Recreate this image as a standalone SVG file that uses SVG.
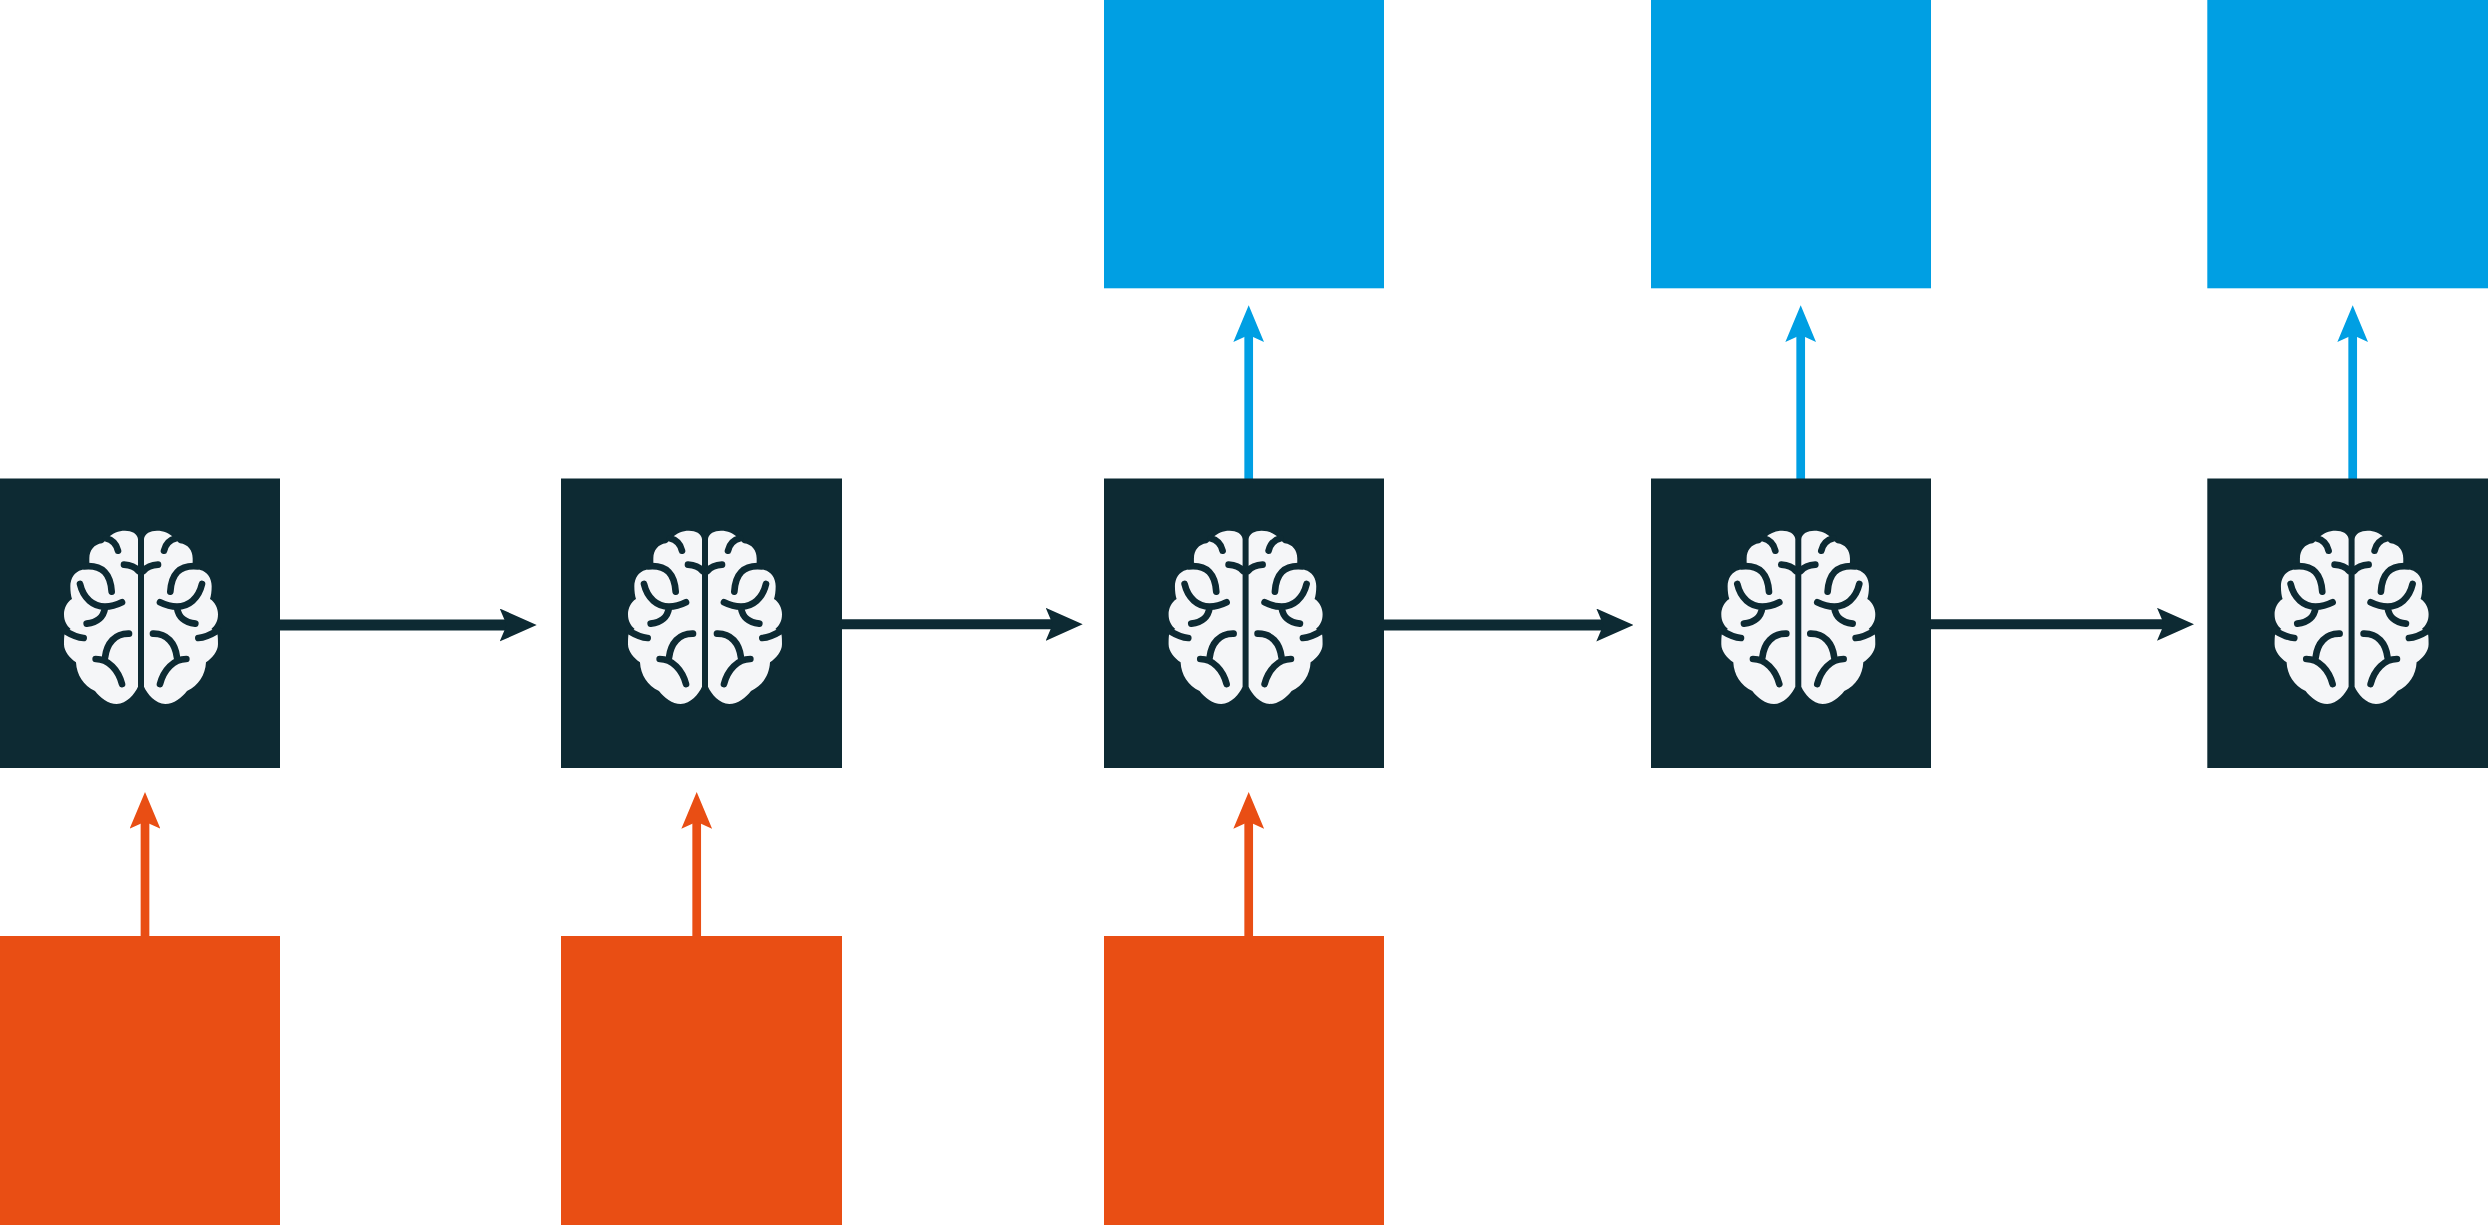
<svg xmlns="http://www.w3.org/2000/svg" xmlns:xlink="http://www.w3.org/1999/xlink" width="2488" height="1225" viewBox="0 0 2488 1225">
<style>
.cell{fill:#0d2a33}
.out{fill:#009fe3}
.in{fill:#e94e14}
.hemi{fill:#f5f6f8}
.fold{fill:none;stroke:#0d2a33;stroke-width:20;stroke-linecap:round;stroke-linejoin:round}
.h{stroke:#0d2a33;fill:none}
.ub{stroke:#009fe3;stroke-width:8.7;fill:none;marker-end:url(#headBlue)}
.uo{stroke:#e94e14;stroke-width:8.7;fill:none;marker-end:url(#headOrange)}
</style>
<defs>
<marker id="headDark" markerUnits="userSpaceOnUse" viewBox="0 0 37 33" markerWidth="37" markerHeight="33" refX="20" refY="16.5" orient="auto"><path d="M37,16.5L0,0L7,16.5L0,33Z" fill="#0d2a33"/></marker>
<marker id="headBlue" markerUnits="userSpaceOnUse" viewBox="0 0 36.7 30.7" markerWidth="36.7" markerHeight="30.7" refX="20" refY="15.35" orient="auto"><path d="M36.7,15.35L0,0L7,15.35L0,30.7Z" fill="#009fe3"/></marker>
<marker id="headOrange" markerUnits="userSpaceOnUse" viewBox="0 0 36.7 30.7" markerWidth="36.7" markerHeight="30.7" refX="20" refY="15.35" orient="auto"><path d="M36.7,15.35L0,0L7,15.35L0,30.7Z" fill="#e94e14"/></marker>
<g id="half">
<path class="hemi" d="M294,72C292,55 275,47 255,47C235,47 218,55 205,67C196,76 192,83 186,85C162,88 148,106 148,130L148,150L125,165C104,170 91,190 91,214C91,230 93,243 96,252C80,262 72,280 72,298C72,318 80,332 92,342L74,355C72,366 72,378 72,388C72,410 90,430 108,442C110,480 130,512 165,528C180,548 205,567 230,567C260,567 285,535 294,515Z"/>
<path class="fold" d="M198,70C218,75 230,90 234,107"/>
<path class="fold" d="M252,149C270,150 285,155 296,168"/>
<path class="fold" d="M132,154C190,148 212,180 215,230"/>
<path class="fold" d="M120,207C130,250 160,275 195,275C215,275 230,270 246,262"/>
<path class="fold" d="M195,278C190,310 170,322 140,326"/>
<path class="fold" d="M72,346C95,360 115,368 131,369"/>
<path class="fold" d="M267,356C225,355 200,385 195,428"/>
<path class="fold" d="M167,432C205,432 235,465 246,507"/>
</g>
<g id="brain" transform="translate(40 515) scale(.33333)">
<use xlink:href="#half" href="#half"/>
<use xlink:href="#half" href="#half" transform="translate(606 0) scale(-1 1)"/>
</g>
</defs>
<rect width="2488" height="1225" fill="#fff"/>
<g id="connectors">
<line class="h" stroke-width="11" x1="278" y1="625" x2="519.7" y2="625" marker-end="url(#headDark)"/>
<line class="h" stroke-width="10" x1="840" y1="624.3" x2="1065.7" y2="624.3" marker-end="url(#headDark)"/>
<line class="h" stroke-width="11" x1="1382" y1="625" x2="1616.3" y2="625" marker-end="url(#headDark)"/>
<line class="h" stroke-width="10" x1="1929" y1="624.3" x2="2177" y2="624.3" marker-end="url(#headDark)"/>
<line class="ub" x1="1248.7" y1="480" x2="1248.7" y2="322"/>
<line class="ub" x1="1800.7" y1="480" x2="1800.7" y2="322"/>
<line class="ub" x1="2352.7" y1="480" x2="2352.7" y2="322"/>
<line class="uo" x1="145" y1="938" x2="145" y2="808.7"/>
<line class="uo" x1="696.7" y1="938" x2="696.7" y2="808.7"/>
<line class="uo" x1="1248.7" y1="938" x2="1248.7" y2="808.7"/>
</g>
<g id="cell1"><rect class="cell" x="0" y="478.5" width="280" height="289.5"/><use xlink:href="#brain" href="#brain"/></g>
<g id="cell2"><rect class="cell" x="561" y="478.5" width="281" height="289.5"/><use xlink:href="#brain" href="#brain" x="564"/></g>
<g id="cell3"><rect class="cell" x="1104" y="478.5" width="280" height="289.5"/><use xlink:href="#brain" href="#brain" x="1104.6"/></g>
<g id="cell4"><rect class="cell" x="1651" y="478.5" width="280" height="289.5"/><use xlink:href="#brain" href="#brain" x="1657.3"/></g>
<g id="cell5"><rect class="cell" x="2207.3" y="478.5" width="280.7" height="289.5"/><use xlink:href="#brain" href="#brain" x="2210.6"/></g>
<g id="output3"><rect class="out" x="1104" y="0" width="280" height="288.3"/></g>
<g id="output4"><rect class="out" x="1651" y="0" width="280" height="288.3"/></g>
<g id="output5"><rect class="out" x="2207.3" y="0" width="280.7" height="288.3"/></g>
<g id="input1"><rect class="in" x="0" y="936" width="280" height="289"/></g>
<g id="input2"><rect class="in" x="561" y="936" width="281" height="289"/></g>
<g id="input3"><rect class="in" x="1104" y="936" width="280" height="289"/></g>
</svg>
